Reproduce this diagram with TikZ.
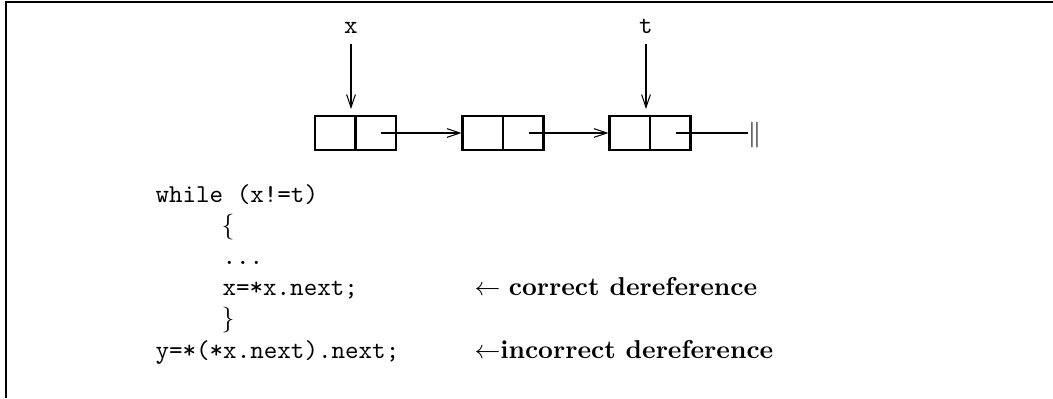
\documentclass[tikz,border=0pt]{standalone}
\usetikzlibrary{arrows.meta}
\begin{document}
\begin{tikzpicture}[x=0.3876pt,y=-0.3876pt,
  nodebox/.style={draw,line width=0.8pt,rectangle,minimum width=31.4pt,minimum height=13.2pt,inner sep=0pt},
  ptr/.style={line width=0.4pt,-{Straight Barb[length=5pt,width=3.4pt]}},
  plain/.style={line width=0.4pt},
  lab/.style={anchor=base,inner sep=3.5pt,font=\ttfamily},
  code/.style={anchor=base west,inner sep=0pt,font=\ttfamily},
  note/.style={anchor=base west,inner sep=0pt}]
\useasboundingbox (0,0) rectangle (1053,398);
% frame
\draw[line width=0.8pt] (6,398) -- (6,2) -- (1053,2);
% list cells
\node[nodebox] (b1) at (355.5,133) {};
\node[nodebox] (b2) at (503,133) {};
\node[nodebox] (b3) at (650,133) {};
\foreach \b in {b1,b2,b3} \draw[line width=0.8pt] (\b.north) -- (\b.south);
% pointers between cells
\draw[ptr] ([xshift=10pt]b1.center) -- (b2.west);
\draw[ptr] ([xshift=10pt]b2.center) -- (b3.west);
% nil
\node[inner sep=0pt] (nil) at (754.5,135.5) {$\|$};
\draw[plain] ([xshift=10pt]b3.center) -- (nil.west |- b3.center);
% labels x and t
\node[lab] (lx) at (351,34) {x};
\node[lab] (lt) at (646,34) {t};
\draw[ptr] (lx.south) -- ([yshift=2.3pt]lx.south |- b1.north);
\draw[ptr] (lt.south) -- ([yshift=2.3pt]lt.south |- b3.north);
% code
\node[code] (l1) at (155,202) {while (x!=t)};
\node[note] (l2) at (221,233) {$\{$};
\node[code] (l3) at (222,264) {...};
\node[code] (l4) at (222,295) {x=*x.next;};
\node[note] (l5) at (221,326) {$\}$};
\node[code] (l6) at (155,358) {y=*(*x.next).next;};
\node[note] (c1) at (474,295) {$\leftarrow$ \textbf{correct dereference}};
\node[note] (c2) at (474,358) {$\leftarrow$\textbf{incorrect dereference}};
\end{tikzpicture}
\end{document}
